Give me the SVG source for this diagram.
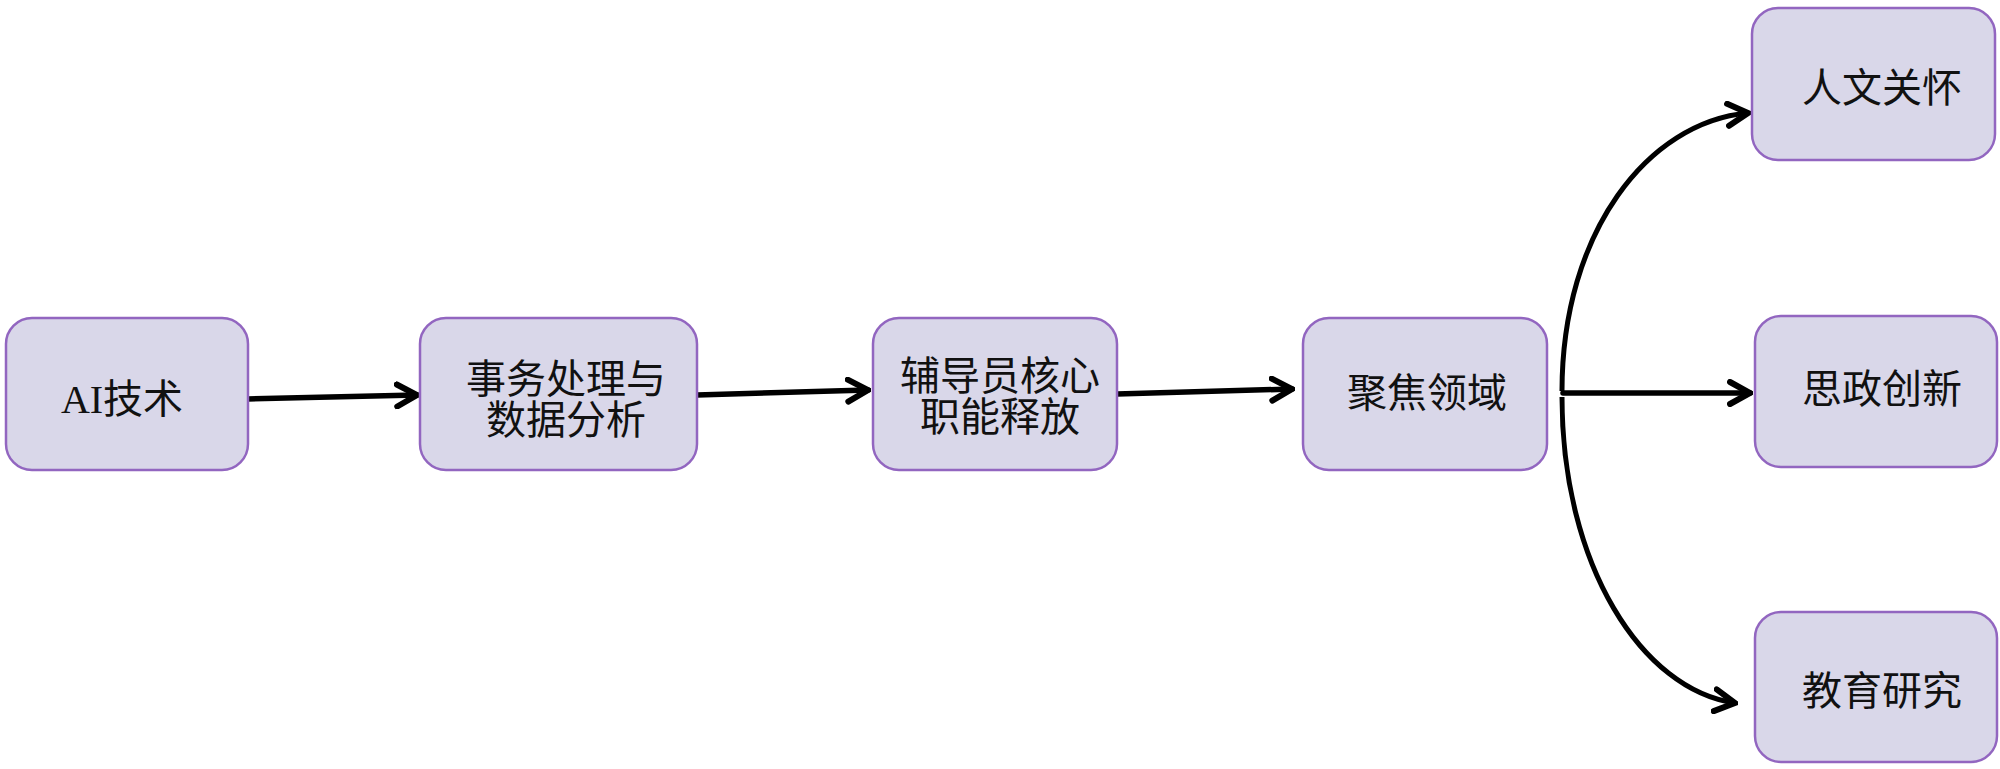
<svg xmlns="http://www.w3.org/2000/svg" width="2000" height="769" viewBox="0 0 2000 769">
<style>
.box{fill:#d9d7e9;stroke:#9266c0;stroke-width:2.5}
.lbl{font-family:"Liberation Serif","Noto Sans CJK SC",serif;font-size:40px;fill:#111;text-anchor:middle}
.conn{fill:none;stroke:#000;stroke-width:5.5;stroke-linecap:round}
.curve{fill:none;stroke:#000;stroke-width:5}
</style>
<defs>
<marker id="arr" viewBox="0 0 26 28" refX="23" refY="14" markerWidth="26" markerHeight="28" markerUnits="userSpaceOnUse" orient="auto">
<path d="M3,3 L23,14 L3,25" fill="none" stroke="#000" stroke-width="6" stroke-linecap="round" stroke-linejoin="miter"/>
</marker>
</defs>
<rect width="2000" height="769" fill="#fff"/>
<g id="connectors">
<path class="conn" d="M248,399 L417,395" marker-end="url(#arr)"/>
<path class="conn" d="M697,395 L868,390" marker-end="url(#arr)"/>
<path class="conn" d="M1117,394 L1292,389" marker-end="url(#arr)"/>
<path class="conn" d="M1563,393 L1750,393" marker-end="url(#arr)"/>
<path class="curve" d="M1562,391 C1562,232 1648,122 1748,113" marker-end="url(#arr)"/>
<path class="curve" d="M1562,397 C1562,565 1642,690 1735,703" marker-end="url(#arr)"/>
</g>
<g id="n1"><rect class="box" x="6" y="318" width="242" height="152" rx="26"/><text class="lbl" x="122" y="413">AI技术</text></g>
<g id="n2"><rect class="box" x="420" y="318" width="277" height="152" rx="26"/><text class="lbl" x="566" y="393">事务处理与</text><text class="lbl" x="566" y="434">数据分析</text></g>
<g id="n3"><rect class="box" x="873" y="318" width="244" height="152" rx="26"/><text class="lbl" x="1000" y="390">辅导员核心</text><text class="lbl" x="1000" y="431">职能释放</text></g>
<g id="n4"><rect class="box" x="1303" y="318" width="244" height="152" rx="26"/><text class="lbl" x="1427" y="407">聚焦领域</text></g>
<g id="n5"><rect class="box" x="1752" y="8" width="243" height="152" rx="26"/><text class="lbl" x="1882" y="102">人文关怀</text></g>
<g id="n6"><rect class="box" x="1755" y="316" width="242" height="151" rx="26"/><text class="lbl" x="1882" y="403">思政创新</text></g>
<g id="n7"><rect class="box" x="1755" y="612" width="242" height="150" rx="26"/><text class="lbl" x="1882" y="705">教育研究</text></g>
</svg>
